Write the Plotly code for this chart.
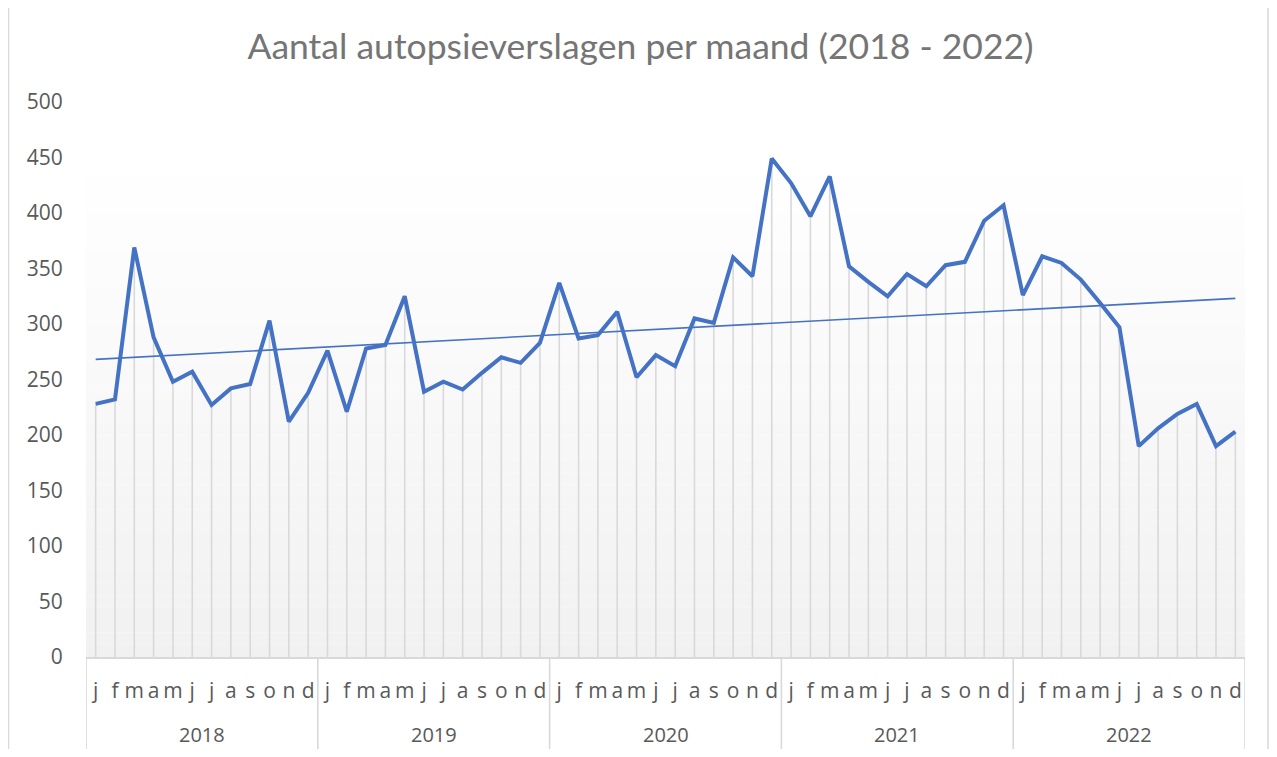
import numpy as np
import plotly.graph_objects as go

# ---- data ----
years = ["2018", "2019", "2020", "2021", "2022"]
months = ["j", "f", "m", "a", "m", "j", "j", "a", "s", "o", "n", "d"]
values_2018 = [228, 232, 369, 288, 248, 257, 227, 242, 246, 303, 212, 238]
values_2019 = [276, 221, 278, 281, 325, 239, 248, 241, 256, 270, 265, 283]
values_2020 = [337, 287, 290, 311, 252, 272, 262, 305, 301, 360, 343, 449]
values_2021 = [427, 397, 433, 352, 338, 325, 345, 334, 353, 356, 393, 407]
values_2022 = [326, 361, 355, 340, 319, 297, 190, 206, 219, 228, 190, 203]
y_ticks = [0, 50, 100, 150, 200, 250, 300, 350, 400, 450, 500]

values = values_2018 + values_2019 + values_2020 + values_2021 + values_2022
n = len(values)
x = list(range(n))
tick_text = months * len(years)

# linear trend line (computed from the data)
coef = np.polyfit(x, values, 1)
trend = np.polyval(coef, [x[0], x[-1]])

# ---- layout geometry (page has an 8px body margin) ----
OFF = 8
W, H = 1277 - 2 * OFF, 757 - 2 * OFF
L, T = 86 - OFF, 102 - OFF
R = W - (1245 - OFF)
B = H - (657 - OFF)
plot_w = W - L - R
plot_h = H - T - B

def py(pix):
    """window pixel y -> paper y"""
    return (H - B - (pix - OFF)) / plot_h

def px(pix):
    return ((pix - OFF) - L) / plot_w

LINE = "#4472C4"
GRID = "#d9d9d9"
TXT = "#595959"

fig = go.Figure()

# drop lines
fig.add_trace(go.Scatter(
    x=x, y=values, mode="markers",
    marker=dict(size=1, color="rgba(0,0,0,0)"),
    error_y=dict(type="data", symmetric=False, array=[0] * n, arrayminus=values,
                 color=GRID, thickness=1.6, width=0),
    hoverinfo="skip", showlegend=False,
))
# main line
fig.add_trace(go.Scatter(
    x=x, y=values, mode="lines",
    line=dict(color=LINE, width=4), showlegend=False,
))
# trend line
fig.add_trace(go.Scatter(
    x=[x[0], x[-1]], y=list(trend), mode="lines",
    line=dict(color=LINE, width=1.6), showlegend=False,
))

shapes = []
# gradient background band (white -> light grey)
top_pix, bot_pix = 165, 657
steps = 40
for i in range(steps):
    y0p = top_pix + (bot_pix - top_pix) * i / steps
    y1p = top_pix + (bot_pix - top_pix) * (i + 1) / steps
    t = (i + 0.5) / steps
    c = int(round(255 - (255 - 241) * t))
    shapes.append(dict(type="rect", xref="paper", yref="paper",
                       x0=0, x1=1, y0=py(y1p), y1=py(y0p),
                       fillcolor=f"rgb({c},{c},{c})", line=dict(width=0),
                       layer="below"))
# year dividers
for k in range(len(years) + 1):
    xv = -0.5 + 12 * k
    shapes.append(dict(type="line", xref="x", yref="paper",
                       x0=xv, x1=xv, y0=0, y1=py(750),
                       line=dict(color=GRID, width=1.6)))
# outer chart border
BR = 1268
shapes.append(dict(type="line", xref="paper", yref="paper",
                   x0=px(8), x1=px(BR), y0=py(3.5), y1=py(3.5),
                   line=dict(color=GRID, width=1.5)))
shapes.append(dict(type="line", xref="paper", yref="paper",
                   x0=px(8.5), x1=px(8.5), y0=py(3.5), y1=py(760),
                   line=dict(color=GRID, width=1.5)))
shapes.append(dict(type="line", xref="paper", yref="paper",
                   x0=px(BR), x1=px(BR), y0=py(3.5), y1=py(760),
                   line=dict(color=GRID, width=1.5)))

annotations = []
for k, yr in enumerate(years):
    annotations.append(dict(x=5.5 + 12 * k, y=py(735), xref="x", yref="paper",
                            text=yr, showarrow=False, yanchor="middle",
                            font=dict(family="Open Sans", size=20, color=TXT)))

fig.update_layout(
    width=W, height=H,
    margin=dict(l=L, r=R, t=T, b=B),
    paper_bgcolor="white", plot_bgcolor="white",
    title=dict(text="Aantal autopsieverslagen per maand (2018 - 2022)",
               x=(640.5 - OFF) / W, xref="container", xanchor="center",
               y=1 - (47 - OFF) / H, yanchor="middle",
               font=dict(family="Lato", size=35.5, color="#757575")),
    xaxis=dict(range=[-0.5, n - 0.5], tickmode="array", tickvals=x,
               ticktext=tick_text, showgrid=False, zeroline=False,
               showline=True, linecolor=GRID, linewidth=2,
               ticks="outside", ticklen=14, tickcolor="rgba(0,0,0,0)",
               tickfont=dict(family="Open Sans", size=21, color=TXT)),
    yaxis=dict(range=[0, 500], tickmode="array", tickvals=y_ticks,
               showgrid=False, zeroline=False, showline=False,
               ticks="outside", ticklen=18, tickcolor="rgba(0,0,0,0)",
               tickfont=dict(family="Open Sans", size=21, color=TXT)),
    shapes=shapes, annotations=annotations,
    showlegend=False,
)

fig.write_html("out.html")
